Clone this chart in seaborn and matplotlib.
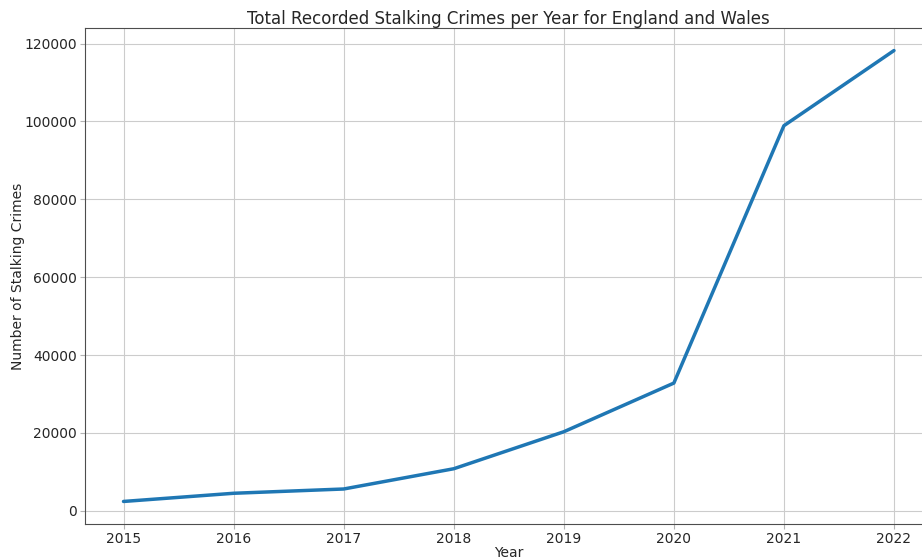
import matplotlib
matplotlib.use("Agg")
import matplotlib.pyplot as plt
import seaborn as sns
import pandas as pd

years = [2015, 2016, 2017, 2018, 2019, 2020, 2021, 2022]
stalking_crimes = [2400, 4500, 5600, 10800, 20300, 32800, 98900, 118200]

df = pd.DataFrame({"Year": years, "Crimes": stalking_crimes})

sns.set_style("ticks", {"axes.grid": True, "grid.color": ".8", "axes.edgecolor": ".3"})
plt.rcParams["font.family"] = ["DejaVu Sans"]

fig = plt.figure(figsize=(9.22, 5.6), dpi=100)
ax = fig.add_axes([85 / 922, 1 - 524 / 560, (932.5 - 85) / 922, (524 - 28) / 560])

sns.lineplot(data=df, x="Year", y="Crimes", ax=ax, color="#1f77b4", linewidth=2.5)

ax.set_title("Total Recorded Stalking Crimes per Year for England and Wales", fontsize=12, pad=3)
ax.set_xlabel("Year", fontsize=10, labelpad=0)
ax.set_ylabel("Number of Stalking Crimes", fontsize=10, labelpad=-1)
ax.tick_params(labelsize=10, length=3.5, pad=2.5, color=".7")
ax.set_xticks(years)
ax.set_xticklabels([str(y) for y in years])

fig.savefig("out.png", dpi=100)
